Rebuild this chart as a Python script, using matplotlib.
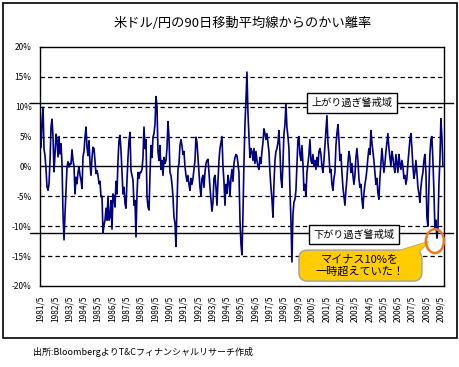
import numpy as np
import matplotlib
matplotlib.use("Agg")
import matplotlib.pyplot as plt
import matplotlib.transforms as mtransforms
from matplotlib.patches import Rectangle, Ellipse, FancyBboxPatch, Polygon
from matplotlib.lines import Line2D

plt.rcParams["font.family"] = ["Noto Sans CJK JP", "DejaVu Sans"]

# deviation (%) of USD/JPY from its 90-day moving average, 1981/5 .. 2009/6
deviation = [
    3.2, 7.5, 9.9, 2.9, 1.8, -0.5, -3.4, -4.0, -2.9, 1.0,
    6.6, 7.9, 4.9, -0.9, 2.0, 5.4, 4.5, 1.6, 5.0, 2.1,
    3.8, 0.4, -8.0, -12.3, -7.9, -4.0, -0.1, 0.8, -0.1, 0.5,
    0.4, 2.8, 1.0, 0.0, -4.6, -1.8, -2.9, -1.0, -0.1, -1.5,
    -2.3, -3.7, 1.6, 2.5, 4.9, 6.6, 3.2, 1.8, 4.3, 0.5,
    -1.5, 1.5, 3.2, 3.0, 1.0, -1.2, -0.7, -1.5, -2.9, -2.5,
    -5.1, -5.0, -11.2, -9.8, -9.0, -7.0, -9.0, -5.0, -9.0, -8.5,
    -5.7, -10.5, -4.6, -5.0, -6.8, -2.5, -4.6, 1.0, 4.3, 5.2,
    2.7, -1.0, -4.6, -3.5, -6.2, -7.0, -2.3, 1.5, 4.3, 5.7,
    -0.7, -1.5, -2.3, -6.5, -5.7, -11.8, -4.6, -1.0, -2.0, -1.0,
    -1.0, -0.5, 1.5, 6.6, 3.0, 4.5, -5.0, -6.8, -7.3, -1.5,
    3.5, 1.5, 4.9, 5.5, 7.0, 11.7, 10.0, 2.5, 1.0, 3.5,
    -0.5, 1.0, -1.5, 1.5, 0.5, 1.0, 3.0, 7.5, 5.0, -1.0,
    -1.5, -3.0, -5.0, -8.5, -9.5, -13.4, -6.5, -0.5, 0.5, 3.5,
    4.5, 3.5, 2.0, 2.5, 0.0, -1.5, -2.5, -1.5, -3.0, -4.0,
    -2.0, -3.0, -2.0, -0.5, 1.0, 4.9, 4.0, 1.5, -1.0, -3.5,
    -4.9, -2.0, -1.5, -3.5, -1.0, 0.5, 1.0, 1.2, -1.0, -3.5,
    -5.5, -7.5, -6.0, -2.0, -1.5, -3.5, -6.5, -2.5, 1.0, 3.0,
    4.0, 5.0, 0.0, -2.5, -6.5, -3.0, -4.5, -1.5, -2.5, -5.0,
    -2.0, -0.5, -2.5, 0.5, 1.5, 2.0, 1.8, 0.5, -1.0, -9.0,
    -13.0, -14.8, -8.0, 0.5, 7.0, 11.0, 15.8, 9.0, 5.0, 1.5,
    3.0, 2.5, 1.0, 3.0, 0.5, 2.5, 1.0, 0.0, -0.5, 1.5,
    0.5, 2.5, 4.0, 6.3, 5.5, 4.5, 5.5, 4.0, 2.5, -1.0,
    -3.5, -5.5, -8.5, -3.0, 1.0, 2.5, 3.0, 4.0, 6.0, 2.5,
    -2.0, -3.5, 0.5, 5.5, 7.0, 10.5, 6.5, 5.0, 3.0, -4.0,
    -9.0, -16.0, -8.0, -6.0, -5.5, -4.0, 0.5, 4.5, 5.0, 2.0,
    1.0, 3.5, 0.5, -4.0, -3.0, -5.0, -1.0, 0.5, 2.0, 4.5,
    1.0, 0.5, 2.0, 0.0, 1.0, -0.5, 1.5, 0.0, 2.5, 3.0,
    2.0, 0.0, -1.0, 1.0, 3.5, 6.0, 8.5, 4.0, 2.0, -1.0,
    -0.5, -3.0, -4.0, -2.0, -1.0, 3.5, 5.5, 7.0, 4.5, 1.0,
    2.0, -1.0, -3.5, -5.0, -6.5, -4.0, -2.0, 0.5, 2.5, 1.5,
    -1.0, 0.5, -1.5, -3.0, -1.5, 1.5, 3.0, 1.0, -2.0, -3.5,
    -3.0, -5.5, -7.0, -4.5, -3.0, -2.0, -0.5, 1.5, 3.0, 2.0,
    6.0, 4.0, 2.5, 1.0, -1.0, -3.0, -2.0, -4.5, -5.5, -2.0,
    0.5, 3.0, 1.0, -1.0, 0.5, 2.5, 4.0, 5.5, 3.0, 1.5,
    0.0, 2.5, 1.5, 0.0, -1.0, 2.0, 0.5, -1.0, 2.0, 0.5,
    -0.5, 1.0, 0.0, -2.0, -1.5, -3.0, -2.0, 0.5, 2.5, 4.5,
    5.5, 3.0, 0.0, -2.0, -1.0, 1.0, -1.0, -3.5, -4.5, -6.0,
    -3.5, -2.0, -1.0, 1.0, 2.0, -1.0, -8.5, -10.0, -3.5, 2.0,
    4.5, 5.0, 1.0, -4.0, -10.5, -9.0, -12.0, -10.5, -3.0, 1.0,
    8.0, 5.0, 0.0,
]
start_year = 1981.37
end_year = 2009.48

tick_years = list(range(1981, 2010))
tick_labels = [f"{y}/5" for y in tick_years]
y_ticks = [-20, -15, -10, -5, 0, 5, 10, 15, 20]
dashed_levels = [-15, -10, -5, 5, 10, 15]

upper_band = 10.6
lower_band = -11.2

title = "米ドル/円の90日移動平均線からのかい離率"
upper_label = "上がり過ぎ警戒域"
lower_label = "下がり過ぎ警戒域"
callout_text = "マイナス10%を\n一時超えていた！"
source_text = "出所:BloombergよりT&Cフィナンシャルリサーチ作成"

fig = plt.figure(figsize=(4.6, 3.67), dpi=100)
ax = fig.add_axes([0.087, 0.221, 0.878, 0.651])

x = np.linspace(start_year, end_year, len(deviation))

for lv in dashed_levels:
    ax.axhline(lv, color="black", lw=0.9, dashes=(3.5, 2.5), zorder=1)
ax.axhline(0, color="black", lw=1.0, zorder=1)

ax.plot(x, deviation, color="#000080", lw=1.2, zorder=3)

ax.set_xlim(1981.30, 2009.55)
ax.set_ylim(-20, 20)
ax.set_yticks(y_ticks)
ax.set_yticklabels([f"{v}%" for v in y_ticks], fontsize=6)
ax.set_xticks([y + 4 / 12 for y in tick_years])
ax.set_xticklabels(tick_labels, rotation=90, fontsize=6)
ax.tick_params(axis="x", length=0, pad=7)
ax.tick_params(axis="y", length=2, direction="in", pad=6)
for sp in ax.spines.values():
    sp.set_linewidth(1.0)
    sp.set_color("black")

# warning bands extend past the plot area
trans = mtransforms.blended_transform_factory(fig.transFigure, ax.transData)
for lv in (upper_band, lower_band):
    ax.add_line(Line2D([0.065, 0.985], [lv, lv], transform=trans,
                       color="black", lw=1.0, clip_on=False, zorder=4))

box = dict(boxstyle="square,pad=0.45", fc="white", ec="black", lw=1.0)
ax.text(2003.12, upper_band, upper_label, fontsize=7.3, ha="center",
        va="center", bbox=box, zorder=6)
ax.text(2003.26, lower_band - 0.2, lower_label, fontsize=7.3, ha="center",
        va="center", bbox=box, zorder=6)

# yellow callout
fill, edge = "#FFCC00", "#A0A0A0"
tail = [(2006.0, -14.4), (2007.8, -14.4), (2008.45, -12.6)]
ax.add_patch(Polygon(tail, closed=True, fc=fill, ec=edge, lw=1.0,
                     clip_on=False, zorder=6))
ax.add_patch(FancyBboxPatch((1999.41, -19.2), 8.6, 5.2,
                            boxstyle="round,pad=0,rounding_size=0.6",
                            mutation_aspect=2.4, fc=fill, ec=edge, lw=1.0,
                            clip_on=False, zorder=6))
ax.add_patch(Polygon(tail, closed=True, fc=fill, ec="none",
                     clip_on=False, zorder=7))
ax.text(2003.7, -16.6, callout_text, fontsize=8, ha="center", va="center",
        linespacing=1.25, zorder=8)

ax.add_patch(Ellipse((2008.92, -12.5), 1.26, 4.0, fc="none", ec="#F07820",
                     lw=1.8, clip_on=False, zorder=8))

fig.text(0.528, 0.937, title, fontsize=9.5, ha="center", va="center")
fig.text(0.072, 0.041, source_text, fontsize=6.5, ha="left", va="center")

fig.patches.append(Rectangle((3 / 460, 1 - 338 / 367), 454 / 460, 335 / 367,
                             transform=fig.transFigure, fill=False,
                             ec="black", lw=1.2))

fig.savefig("out.png", dpi=100)
